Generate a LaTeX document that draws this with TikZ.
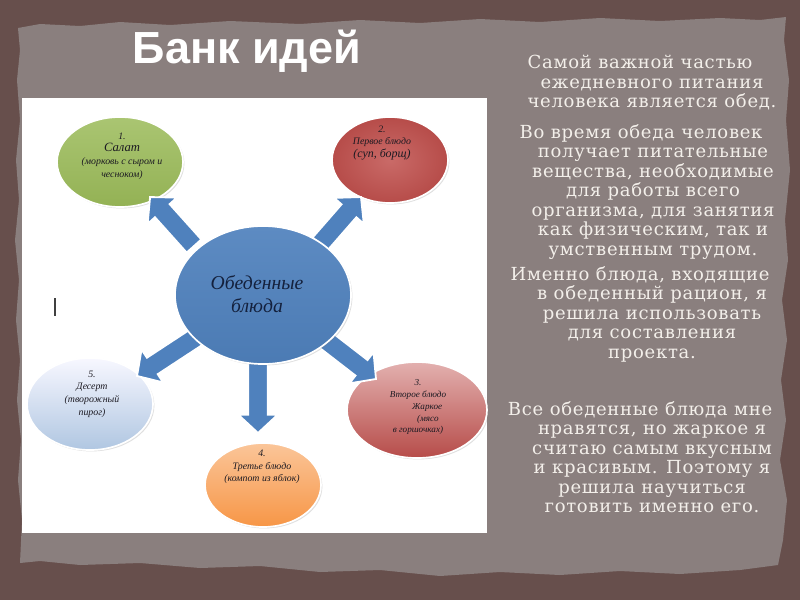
\documentclass[tikz,border=0pt]{standalone}
\usepackage{fontspec}
\setmainfont{Liberation Serif}
\newfontfamily\titlefont{Liberation Sans}
\newfontfamily\bodyfont[LetterSpace=4]{DejaVu Serif}
\usetikzlibrary{shapes.geometric,calc,shadows}
\definecolor{bgdark}{HTML}{674F4C}
\definecolor{paper}{HTML}{8A7F7E}
\definecolor{bodytext}{HTML}{F3EFEA}
\definecolor{cblue}{HTML}{4F81BD}
\definecolor{cgreen}{HTML}{9BBB59}
\definecolor{cred}{HTML}{C0504D}
\definecolor{corange}{HTML}{F79646}
\definecolor{ink}{HTML}{1C1A22}
\definecolor{navy}{HTML}{14213D}
\newcommand\pu{0.025cm}
\newcommand\blockarrow[2]{%
  \path[barrow] let \p1=(#1), \p2=(#2),
    \n1={atan2(\y2-\y1,\x2-\x1)}, \n2={veclen(\x2-\x1,\y2-\y1)} in
    [shift={(\p1)}, rotate=\n1]
    (0pt,-7pt) -- ({\n2*1pt-13pt},-7pt) -- ({\n2*1pt-13pt},-14pt) -- ({\n2*1pt},0pt)
    -- ({\n2*1pt-13pt},14pt) -- ({\n2*1pt-13pt},7pt) -- (0pt,7pt) -- cycle;}
\tikzset{
  dish/.style={ellipse, draw=white, line width=1.2pt, inner sep=0pt,
    drop shadow={opacity=0.25, shadow xshift=1pt, shadow yshift=-1pt}},
  dishtext/.style={align=center, text=ink, inner sep=0pt,
    font=\itshape\fontsize{7}{9}\selectfont},
  para/.style={align=center, text=bodytext, inner sep=0pt,
    font=\bodyfont\fontsize{12.8}{13.85}\selectfont},
  barrow/.style={fill=cblue, draw=white, line width=1.3pt, line join=miter},
}
\begin{document}
\begin{tikzpicture}[x=0.025cm,y=-0.025cm]
\fill[bgdark] (0,0) rectangle (800,600);
\useasboundingbox (0,0) rectangle (800,600);
% paper sheet
\fill[paper] (18,28) -- (40,24) -- (80,26) -- (120,22) -- (170,25) -- (230,21) -- (300,24)
  -- (360,20) -- (420,23) -- (480,19) -- (540,22) -- (600,18) -- (660,21) -- (720,18)
  -- (760,20) -- (786,17) -- (784,40) -- (789,80) -- (786,120) -- (790,170) -- (785,220)
  -- (788,260) -- (782,300) -- (787,340) -- (781,380) -- (786,420) -- (780,460)
  -- (787,500) -- (783,540) -- (778,565) -- (740,570) -- (680,574) -- (620,571)
  -- (560,575) -- (500,572) -- (440,576) -- (380,570) -- (320,572) -- (260,566)
  -- (200,568) -- (140,563) -- (80,565) -- (40,561) -- (20,563) -- (22,520)
  -- (18,480) -- (21,440) -- (17,400) -- (20,360) -- (16,320) -- (19,280) -- (15,240)
  -- (19,200) -- (16,160) -- (20,120) -- (17,80) -- (20,50) -- cycle;
% white panel
\fill[white] (22,98) rectangle (487,533);
\draw[black!75, line width=0.8pt] (55,298) -- (55,316);
% title
\node[font=\titlefont\bfseries\fontsize{32}{36}\selectfont, text=white, anchor=base, inner sep=0pt]
  (title) at (247,63) {Банк идей};
% outer dishes
\node[dish, minimum width=126*\pu, minimum height=90*\pu, top color=cgreen!85!white, bottom color=cgreen!95!black]
  (salad) at (120,162) {};
\node[dish, minimum width=116*\pu, minimum height=86*\pu, inner color=cred!85!white, outer color=cred!95!black]
  (first) at (390,160) {};
\node[dish, minimum width=126*\pu, minimum height=92*\pu, top color=blue!3!white, bottom color=cblue!45!white]
  (dessert) at (90,404) {};
\node[dish, minimum width=140*\pu, minimum height=96*\pu, top color=cred!45!white, bottom color=cred!95!black]
  (second) at (417,410) {};
\node[dish, minimum width=116*\pu, minimum height=84*\pu, top color=corange!55!white, bottom color=corange]
  (third) at (263,485) {};
% arrows
\coordinate (a1s) at (194,246); \coordinate (a1e) at (150,197);
\coordinate (a2s) at (320,244); \coordinate (a2e) at (361,197);
\coordinate (a3s) at (198,336); \coordinate (a3e) at (137,376);
\coordinate (a4s) at (258,358); \coordinate (a4e) at (258,433);
\coordinate (a5s) at (323,338); \coordinate (a5e) at (376,379);
\blockarrow{a1s}{a1e}
\blockarrow{a2s}{a2e}
\blockarrow{a3s}{a3e}
\blockarrow{a4s}{a4e}
\blockarrow{a5s}{a5e}
% centre
\node[dish, minimum width=176*\pu, minimum height=138*\pu, top color=cblue!92!white, bottom color=cblue!95!black]
  (centre) at (263,295) {};
\node[align=center, text=navy, inner sep=0pt, font=\itshape\fontsize{14}{16.5}\selectfont]
  (centretext) at (257,294) {Обеденные\\блюда};
% dish texts
\node[dishtext] (saladtext) at (122,156)
  {1.\\{\fontsize{9}{10}\selectfont Салат}\\(морковь с сыром и\\чесноком)};
\node[dishtext] (firsttext) at (382,143)
  {2.\\Первое блюдо\\{\fontsize{8.5}{10}\selectfont (суп, борщ)}};
\node[dishtext] (desserttext) at (92,394)
  {5.\\Десерт\\(творожный\\пирог)};
\node[dishtext, font=\itshape\fontsize{6.5}{8.5}\selectfont] (secondtext) at (418,407)
  {3.\\Второе блюдо\hspace*{22pt}\\\hspace*{13pt}Жаркое\\\hspace*{14pt}(мясо\\в горшочках)};
\node[dishtext] (thirdtext) at (262,467)
  {4.\\Третье блюдо\\(компот из яблок)};
% right column text
\node[para, anchor=north] (p1) at (652,55)
  {Самой важной частью\hspace*{17pt}\\ежедневного питания\\человека является обед.};
\node[para, anchor=north] (p2) at (653,124)
  {Во время обеда человек\hspace*{17pt}\\получает питательные\\вещества, необходимые\\для работы всего\\организма, для занятия\\как физическим, так и\\умственным трудом.};
\node[para, anchor=north] (p3) at (652,266)
  {Именно блюда, входящие\hspace*{17pt}\\в обеденный рацион, я\\решила использовать\\для составления\\проекта.};
\node[para, anchor=north] (p4) at (652,401)
  {Все обеденные блюда мне\hspace*{17pt}\\нравятся, но жаркое я\\считаю самым вкусным\\и красивым. Поэтому я\\решила научиться\\готовить именно его.};
\end{tikzpicture}
\end{document}
